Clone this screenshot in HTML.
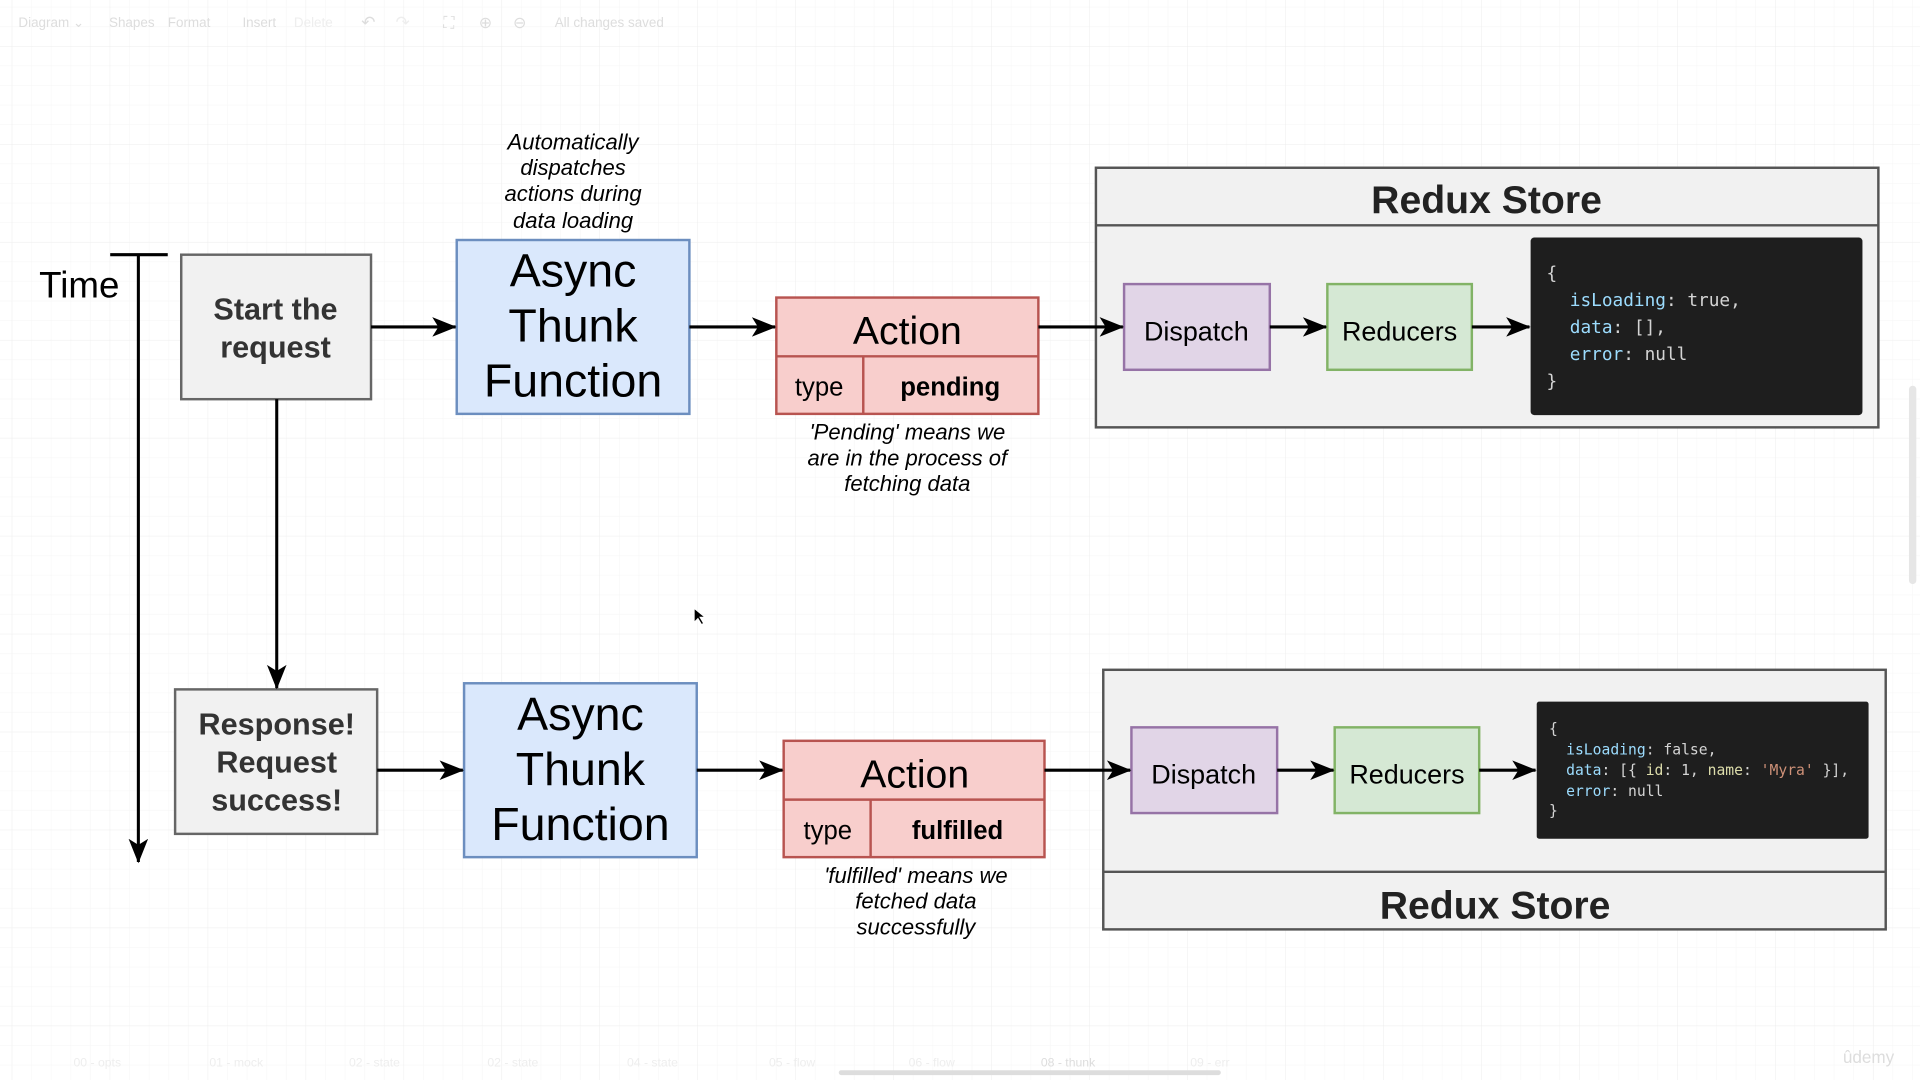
<!DOCTYPE html>
<html><head><meta charset="utf-8"><style>
html,body{margin:0;padding:0;background:#fff;width:1920px;height:1080px;overflow:hidden}
svg{display:block}
</style></head><body>
<svg width="1920" height="1080" viewBox="0 0 1568 882" xmlns="http://www.w3.org/2000/svg" font-family="Liberation Sans, sans-serif">
<defs>
<pattern id="g" width="16" height="16" patternUnits="userSpaceOnUse"><path d="M16 0V16H0" fill="none" stroke="#f5f5f5" stroke-width="0.8"/></pattern>
<pattern id="G" width="80" height="80" patternUnits="userSpaceOnUse" x="10" y="38"><rect width="80" height="80" fill="url(#g)"/><path d="M80 0V80H0" fill="none" stroke="#ececec" stroke-width="0.8"/></pattern>
<marker id="a" viewBox="0 0 20 16" refX="19" refY="8" markerWidth="20" markerHeight="16" orient="auto" markerUnits="userSpaceOnUse"><path d="M0 0L20 8L0 16L5 8Z" fill="#000"/></marker>
</defs>
<rect width="1568" height="882" fill="url(#G)"/>
<!-- toolbar -->
<g fill="#ddd" font-size="11">
<text x="15" y="22">Diagram ⌄</text><text x="89" y="22">Shapes</text><text x="137" y="22">Format</text>
<text x="198" y="22">Insert</text><text x="240" y="22" fill="#eee">Delete</text>
<text x="295" y="23" font-size="14">↶</text><text x="323" y="23" font-size="14" fill="#eee">↷</text>
<text x="362" y="23" font-size="13">⛶</text><text x="391" y="23" font-size="13">⊕</text><text x="419" y="23" font-size="13">⊖</text>
<text x="453" y="22">All changes saved</text>
</g>
<g fill="#eee" font-size="10">
<text x="60" y="871">00 - opts</text><text x="171" y="871">01 - mock</text><text x="285" y="871">02 - state</text><text x="398" y="871">02 - state</text><text x="512" y="871">04 - state</text><text x="628" y="871">05 - flow</text><text x="742" y="871">06 - flow</text><text x="850" y="871" fill="#ddd">08 - thunk</text><text x="972" y="871">09 - err</text>
</g>
<rect x="685" y="874" width="312" height="4" rx="2" fill="#ddd"/>
<rect x="1559" y="315" width="6" height="162" rx="3" fill="#e6e6e6"/>
<text x="1505" y="868" font-size="14" fill="#ddd">ûdemy</text>

<!-- time axis -->
<text x="32" y="243" font-size="30" fill="#000">Time</text>
<line x1="90" y1="208" x2="137" y2="208" stroke="#000" stroke-width="2.5"/>

<!-- row 1 -->
<rect x="148" y="208" width="155" height="118" fill="#f1f1f1" stroke="#666" stroke-width="2"/>
<g font-size="25" font-weight="bold" fill="#333" text-anchor="middle"><text x="225" y="261">Start the</text><text x="225" y="292">request</text></g>
<g font-size="18" font-style="italic" text-anchor="middle" fill="#000"><text x="468" y="122">Automatically</text><text x="468" y="143">dispatches</text><text x="468" y="164">actions during</text><text x="468" y="186">data loading</text></g>
<rect x="373" y="196" width="190" height="142" fill="#dae8fc" stroke="#6c8ebf" stroke-width="2"/>
<g font-size="38" text-anchor="middle" fill="#000"><text x="468" y="234">Async</text><text x="468" y="279">Thunk</text><text x="468" y="324">Function</text></g>
<rect x="634" y="243" width="214" height="95" fill="#f8cecc" stroke="#b85450" stroke-width="2"/>
<line x1="634" y1="291" x2="848" y2="291" stroke="#b85450" stroke-width="2"/>
<line x1="705" y1="291" x2="705" y2="338" stroke="#b85450" stroke-width="2"/>
<text x="741" y="281" font-size="32" text-anchor="middle">Action</text>
<text x="669" y="323" font-size="21" text-anchor="middle">type</text>
<text x="776" y="323" font-size="21" font-weight="bold" text-anchor="middle">pending</text>
<g font-size="18" font-style="italic" text-anchor="middle"><text x="741" y="359">'Pending' means we</text><text x="741" y="380">are in the process of</text><text x="741" y="401">fetching data</text></g>
<rect x="895" y="137" width="639" height="212" fill="#f1f1f1" stroke="#555" stroke-width="2"/>
<line x1="895" y1="184" x2="1534" y2="184" stroke="#555" stroke-width="2"/>
<text x="1214" y="174" font-size="32" font-weight="bold" text-anchor="middle" fill="#222">Redux Store</text>
<rect x="918" y="232" width="119" height="70" fill="#e1d5e7" stroke="#9673a6" stroke-width="2"/>
<text x="977" y="278" font-size="22" text-anchor="middle">Dispatch</text>
<rect x="1084" y="232" width="118" height="70" fill="#d5e8d4" stroke="#82b366" stroke-width="2"/>
<text x="1143" y="278" font-size="22" text-anchor="middle">Reducers</text>
<rect x="1250" y="194" width="271" height="145" rx="3" fill="#1e1e1e"/>
<g font-family="DejaVu Sans Mono, Liberation Mono, monospace" font-size="14.5" fill="#d4d4d4">
<text x="1263" y="228">{</text>
<text x="1282" y="250"><tspan fill="#9cdcfe">isLoading</tspan>: true,</text>
<text x="1282" y="272"><tspan fill="#9cdcfe">data</tspan>: [],</text>
<text x="1282" y="294"><tspan fill="#9cdcfe">error</tspan>: null</text>
<text x="1263" y="316">}</text>
</g>

<!-- row 2 -->
<rect x="143" y="563" width="165" height="118" fill="#f1f1f1" stroke="#666" stroke-width="2"/>
<g font-size="25" font-weight="bold" fill="#333" text-anchor="middle"><text x="226" y="600">Response!</text><text x="226" y="631">Request</text><text x="226" y="662">success!</text></g>
<rect x="379" y="558" width="190" height="142" fill="#dae8fc" stroke="#6c8ebf" stroke-width="2"/>
<g font-size="38" text-anchor="middle"><text x="474" y="596">Async</text><text x="474" y="641">Thunk</text><text x="474" y="686">Function</text></g>
<rect x="640" y="605" width="213" height="95" fill="#f8cecc" stroke="#b85450" stroke-width="2"/>
<line x1="640" y1="653" x2="853" y2="653" stroke="#b85450" stroke-width="2"/>
<line x1="711" y1="653" x2="711" y2="700" stroke="#b85450" stroke-width="2"/>
<text x="747" y="643" font-size="32" text-anchor="middle">Action</text>
<text x="676" y="685" font-size="21" text-anchor="middle">type</text>
<text x="782" y="685" font-size="21" font-weight="bold" text-anchor="middle">fulfilled</text>
<g font-size="18" font-style="italic" text-anchor="middle"><text x="748" y="721">'fulfilled' means we</text><text x="748" y="742">fetched data</text><text x="748" y="763">successfully</text></g>
<rect x="901" y="547" width="639" height="212" fill="#f1f1f1" stroke="#555" stroke-width="2"/>
<line x1="901" y1="712" x2="1540" y2="712" stroke="#555" stroke-width="2"/>
<text x="1221" y="750" font-size="32" font-weight="bold" text-anchor="middle" fill="#222">Redux Store</text>
<rect x="924" y="594" width="119" height="70" fill="#e1d5e7" stroke="#9673a6" stroke-width="2"/>
<text x="983" y="640" font-size="22" text-anchor="middle">Dispatch</text>
<rect x="1090" y="594" width="118" height="70" fill="#d5e8d4" stroke="#82b366" stroke-width="2"/>
<text x="1149" y="640" font-size="22" text-anchor="middle">Reducers</text>
<rect x="1255" y="573" width="271" height="112" rx="2" fill="#1e1e1e"/>
<g font-family="DejaVu Sans Mono, Liberation Mono, monospace" font-size="12" fill="#d4d4d4">
<text x="1265" y="599">{</text>
<text x="1279" y="616"><tspan fill="#9cdcfe">isLoading</tspan>: false,</text>
<text x="1279" y="633"><tspan fill="#9cdcfe">data</tspan>: [{ <tspan fill="#dcdcaa">id</tspan>: 1, <tspan fill="#dcdcaa">name</tspan>: <tspan fill="#ce9178">'Myra'</tspan> }],</text>
<text x="1279" y="650"><tspan fill="#9cdcfe">error</tspan>: null</text>
<text x="1265" y="666">}</text>
</g>

<!-- connectors (on top) -->
<g stroke="#000" stroke-width="2.5" marker-end="url(#a)">
<line x1="113" y1="208" x2="113" y2="704"/>
<line x1="303" y1="267" x2="372" y2="267"/>
<line x1="563" y1="267" x2="633" y2="267"/>
<line x1="848" y1="267" x2="917" y2="267"/>
<line x1="1037" y1="267" x2="1083" y2="267"/>
<line x1="1202" y1="267" x2="1249" y2="267"/>
<line x1="226" y1="326" x2="226" y2="562"/>
<line x1="308" y1="629" x2="378" y2="629"/>
<line x1="569" y1="629" x2="639" y2="629"/>
<line x1="853" y1="629" x2="923" y2="629"/>
<line x1="1043" y1="629" x2="1089" y2="629"/>
<line x1="1208" y1="629" x2="1254" y2="629"/>
</g>
<path d="M567 497l0 11l3-3l3 5l1.5-1l-3-5l4 0z" fill="#000" stroke="#fff" stroke-width="0.6"/>
</svg>
</body></html>
